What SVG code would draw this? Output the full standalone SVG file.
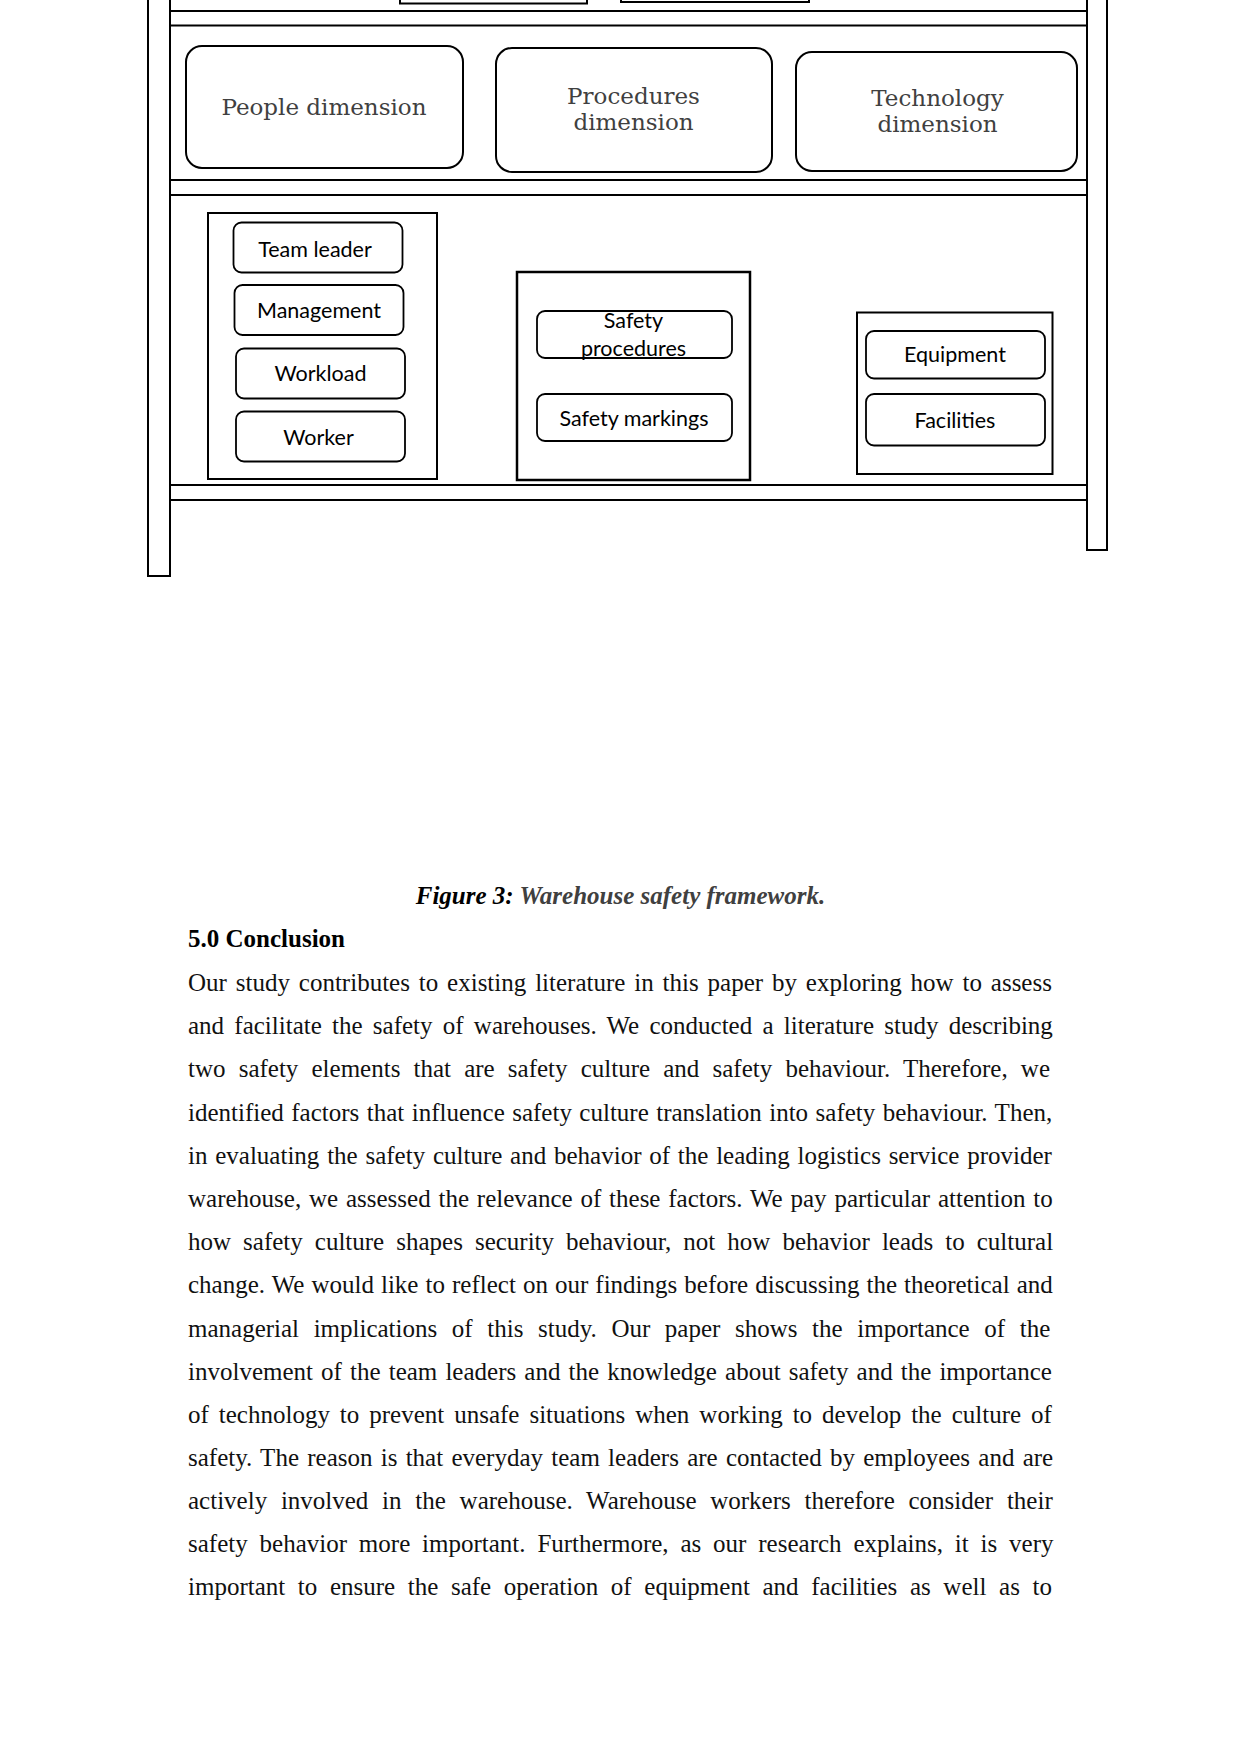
<svg xmlns="http://www.w3.org/2000/svg" width="1241" height="1754" viewBox="0 0 1241 1754">
<style>
.ln{stroke:#000;stroke-width:2;fill:none}
.post{stroke:#000;stroke-width:2;fill:#fff}
.grp{stroke:#000;stroke-width:2;fill:#fff}
.dim{stroke:#000;stroke-width:2;fill:#fff}
.lab{stroke:#000;stroke-width:1.8;fill:#fff}
.dt{font-family:"DejaVu Serif",serif;font-size:23px;fill:#404040;text-anchor:middle}
.lt{font-family:Lato,"Liberation Sans",sans-serif;font-size:21.5px;fill:#000;text-anchor:middle}
.body{font-family:"Liberation Serif",serif;font-size:25px;fill:#111}
</style>
<rect width="1241" height="1754" fill="#fff"/>
<g id="frame">
<rect class="post" x="148" y="-5" width="22" height="581"/>
<rect class="post" x="1087" y="-5" width="20" height="555"/>
<rect class="ln" x="400" y="-5" width="187" height="8.5"/>
<rect class="ln" x="621" y="-5" width="188" height="7"/>
<line class="ln" x1="170" y1="11" x2="1087" y2="11"/>
<line class="ln" x1="170" y1="25.5" x2="1087" y2="25.5"/>
<line class="ln" x1="170" y1="180" x2="1087" y2="180"/>
<line class="ln" x1="170" y1="195" x2="1087" y2="195"/>
<line class="ln" x1="170" y1="485" x2="1087" y2="485"/>
<line class="ln" x1="170" y1="500" x2="1087" y2="500"/>
</g>
<g id="people-dimension">
<rect class="dim" x="186" y="46" width="277" height="122" rx="16"/>
<text class="dt" x="324" y="115">People dimension</text>
</g>
<g id="procedures-dimension">
<rect class="dim" x="496" y="48" width="276" height="124" rx="16"/>
<text class="dt" x="633.5" y="104">Procedures</text>
<text class="dt" x="633.5" y="130">dimension</text>
</g>
<g id="technology-dimension">
<rect class="dim" x="796" y="52" width="281" height="119" rx="16"/>
<text class="dt" x="937.5" y="106">Technology</text>
<text class="dt" x="937.5" y="131.5">dimension</text>
</g>
<g id="people-group">
<rect class="grp" x="208" y="213" width="229" height="266"/>
</g>
<g id="team-leader">
<rect class="lab" x="233.5" y="222.5" width="169" height="50" rx="8"/>
<text class="lt" x="315" y="256.5">Team leader</text>
</g>
<g id="management">
<rect class="lab" x="234.5" y="285" width="169" height="50" rx="8"/>
<text class="lt" x="319" y="317.5">Management</text>
</g>
<g id="workload">
<rect class="lab" x="236" y="348.5" width="169" height="50" rx="8"/>
<text class="lt" x="320.5" y="380.5">Workload</text>
</g>
<g id="worker">
<rect class="lab" x="236" y="411.5" width="169" height="50" rx="8"/>
<text class="lt" x="318.5" y="445">Worker</text>
</g>
<g id="procedures-group">
<rect class="grp" x="517" y="272" width="233" height="208" style="stroke-width:2.5"/>
</g>
<g id="safety-procedures">
<rect class="lab" x="537" y="311" width="195" height="47" rx="8"/>
<text class="lt" x="633.5" y="327.5">Safety</text>
<text class="lt" x="633.5" y="355.5">procedures</text>
</g>
<g id="safety-markings">
<rect class="lab" x="537" y="394" width="195" height="47" rx="8"/>
<text class="lt" x="634" y="425.5">Safety markings</text>
</g>
<g id="technology-group">
<rect class="grp" x="857" y="312.5" width="195.5" height="161.5"/>
</g>
<g id="equipment">
<rect class="lab" x="866" y="331" width="179" height="47.5" rx="8"/>
<text class="lt" x="955" y="361.5">Equipment</text>
</g>
<g id="facilities">
<rect class="lab" x="866" y="394" width="179" height="51.5" rx="8"/>
<text class="lt" x="955" y="427.5">Facilities</text>
</g>
<g id="connectors"></g>
<g id="text">
<text x="620.5" y="904" text-anchor="middle" style="font-family:'Liberation Serif',serif;font-size:25px;font-weight:bold;font-style:italic"><tspan fill="#000">Figure 3:</tspan><tspan fill="#404040"> Warehouse safety framework.</tspan></text>
<text x="188" y="947" style="font-family:'Liberation Serif',serif;font-size:25px;font-weight:bold;fill:#000">5.0 Conclusion</text>
<text class="body" x="188" y="991" word-spacing="2.63">Our study contributes to existing literature in this paper by exploring how to assess</text>
<text class="body" x="188" y="1034" word-spacing="4.0">and facilitate the safety of warehouses. We conducted a literature study describing</text>
<text class="body" x="188" y="1077" word-spacing="6.91">two safety elements that are safety culture and safety behaviour. Therefore, we</text>
<text class="body" x="188" y="1120.5" word-spacing="1.22">identified factors that influence safety culture translation into safety behaviour. Then,</text>
<text class="body" x="188" y="1163.5" word-spacing="1.53">in evaluating the safety culture and behavior of the leading logistics service provider</text>
<text class="body" x="188" y="1207" word-spacing="1.58">warehouse, we assessed the relevance of these factors. We pay particular attention to</text>
<text class="body" x="188" y="1250" word-spacing="5.78">how safety culture shapes security behaviour, not how behavior leads to cultural</text>
<text class="body" x="188" y="1293" word-spacing="0.81">change. We would like to reflect on our findings before discussing the theoretical and</text>
<text class="body" x="188" y="1336.5" word-spacing="8.35">managerial implications of this study. Our paper shows the importance of the</text>
<text class="body" x="188" y="1379.5" word-spacing="1.875">involvement of the team leaders and the knowledge about safety and the importance</text>
<text class="body" x="188" y="1422.5" word-spacing="3.72">of technology to prevent unsafe situations when working to develop the culture of</text>
<text class="body" x="188" y="1466" word-spacing="2.0">safety. The reason is that everyday team leaders are contacted by employees and are</text>
<text class="body" x="188" y="1509" word-spacing="7.5">actively involved in the warehouse. Warehouse workers therefore consider their</text>
<text class="body" x="188" y="1552" word-spacing="5.6">safety behavior more important. Furthermore, as our research explains, it is very</text>
<text class="body" x="188" y="1595" word-spacing="6.38">important to ensure the safe operation of equipment and facilities as well as to</text>
</g>
</svg>
